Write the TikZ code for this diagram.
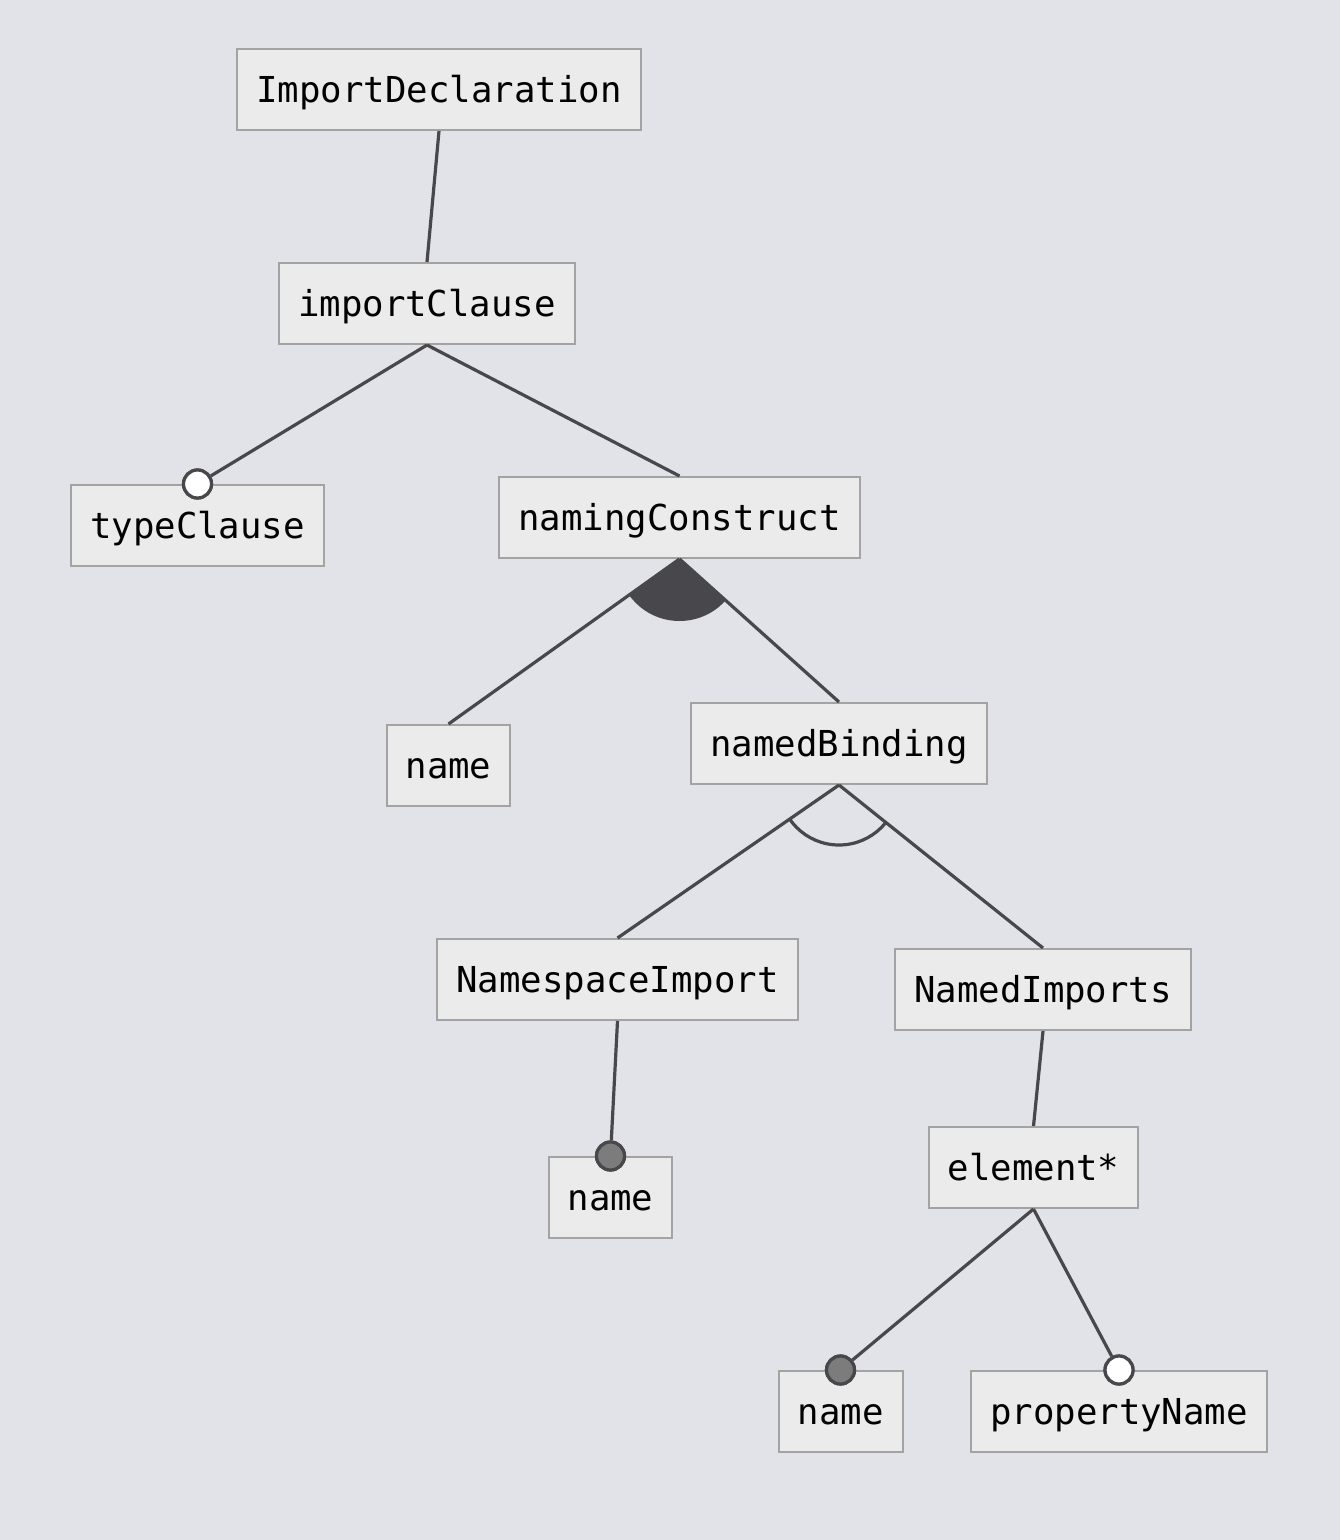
\documentclass[tikz,border=0pt]{standalone}
\usepackage{fontspec}
\setmonofont{DejaVu Sans Mono}
\usetikzlibrary{calc}
\definecolor{bg}{HTML}{E2E3E8}
\definecolor{boxfill}{HTML}{EBEBEB}
\definecolor{boxline}{HTML}{A3A3A3}
\definecolor{edge}{HTML}{48484C}
\definecolor{dotfill}{HTML}{7C7C7C}
\begin{document}
\begin{tikzpicture}[x=0.5pt,y=-0.5pt,
  feat/.style={draw=boxline, fill=boxfill, line width=1pt, inner xsep=9.5pt, inner ysep=0pt,
    text height=13.2pt, text depth=0pt,
    minimum height=40.5pt, font=\ttfamily\fontsize{17.85pt}{20pt}\selectfont, text=black},
  conn/.style={draw=edge, line width=1.6pt},
  optdot/.style={circle, draw=edge, fill=white, line width=1.6pt, minimum size=14pt, inner sep=0pt},
  mandot/.style={circle, draw=edge, fill=dotfill, line width=1.6pt, minimum size=14pt, inner sep=0pt}]
\fill[bg] (0,0) rectangle (1340,1540);
\useasboundingbox (0,0) rectangle (1340,1540);

\node[feat] (root) at (439,89.5) {ImportDeclaration};
\node[feat] (ic) at (427,303.5) {importClause};
\node[feat] (tc) at (197.5,525.5) {typeClause};
\node[feat] (nc) at (679.5,517.5) {namingConstruct};
\node[feat] (n1) at (448.5,765.5) {name};
\node[feat] (nb) at (839,743.5) {namedBinding};
\node[feat] (nsi) at (617.5,979.5) {NamespaceImport};
\node[feat] (ni) at (1043,989.5) {NamedImports};
\node[feat] (n2) at (610.5,1197.5) {name};
\node[feat] (el) at (1033.5,1167.5) {element*};
\node[feat] (n3) at (840.5,1411.5) {name};
\node[feat] (pn) at (1119,1411.5) {propertyName};

\node[optdot] (d1) at (tc.north) {};
\node[mandot] (d2) at (n2.north) {};
\node[mandot] (d3) at (n3.north) {};
\node[optdot] (d4) at (pn.north) {};

% alternative group (filled)
\begin{scope}
  \clip (nc.south) -- ($(nc.south)!3!(n1.north)$) -- ($(nc.south)!3!(nb.north)$) -- cycle;
  \fill[edge] (nc.south) circle[radius=62];
\end{scope}
% or group (open arc)
\begin{scope}
  \clip (nb.south) -- ($(nb.south)!3!(nsi.north)$) -- ($(nb.south)!3!(ni.north)$) -- cycle;
  \draw[edge, line width=1.6pt] (nb.south) circle[radius=60];
\end{scope}

\draw[conn] (root.south) -- (ic.north);
\draw[conn] (ic.south) -- (d1);
\draw[conn] (ic.south) -- (nc.north);
\draw[conn] (nc.south) -- (n1.north);
\draw[conn] (nc.south) -- (nb.north);
\draw[conn] (nb.south) -- (nsi.north);
\draw[conn] (nb.south) -- (ni.north);
\draw[conn] (nsi.south) -- (d2);
\draw[conn] (ni.south) -- (el.north);
\draw[conn] (el.south) -- (d3);
\draw[conn] (el.south) -- (d4);

\node[optdot] at (tc.north) {};
\node[mandot] at (n2.north) {};
\node[mandot] at (n3.north) {};
\node[optdot] at (pn.north) {};
\end{tikzpicture}
\end{document}
